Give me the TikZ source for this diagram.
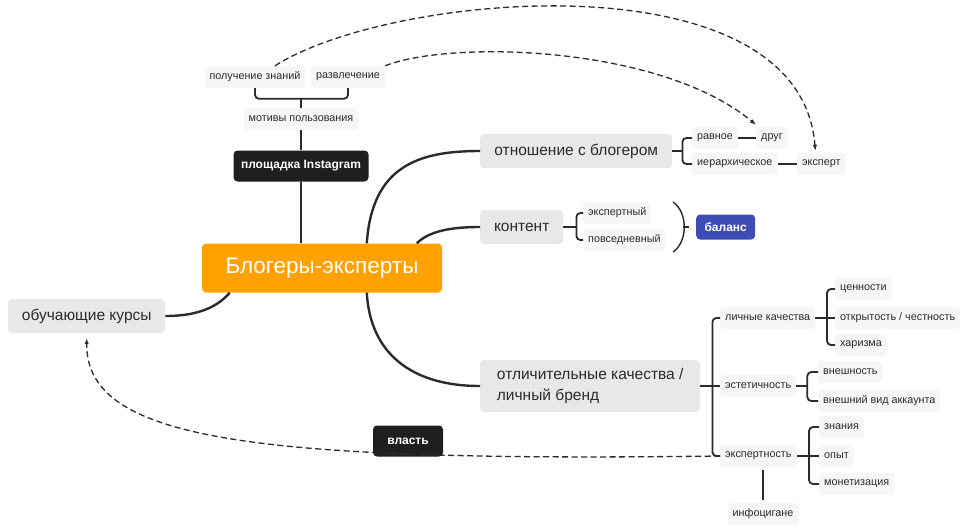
\documentclass[tikz,border=0pt]{standalone}
\usepackage{fontspec}
\setmainfont{Liberation Sans}
\usetikzlibrary{calc,arrows.meta}
\definecolor{encre}{HTML}{2B2B2B}
\definecolor{orangeblog}{HTML}{FFA200}
\definecolor{bleubal}{HTML}{3D4DB5}
\definecolor{noirbox}{HTML}{1F1F1F}
\definecolor{grisbox}{HTML}{E8E8E8}
\definecolor{grispetit}{HTML}{F6F6F6}

\begin{document}
\begin{tikzpicture}[x=1pt,y=-1pt,
	petit/.style={fill=grispetit,rounded corners=3pt,text=encre,font=\fontsize{10.8}{13}\selectfont,inner xsep=5pt,minimum height=22pt,anchor=west},
	gros/.style={fill=grisbox,rounded corners=4pt,text=encre,font=\fontsize{15.5}{21}\selectfont,inner xsep=13pt,minimum height=34pt,anchor=west},
	noir/.style={fill=noirbox,rounded corners=4pt,text=white,font=\fontsize{12}{14}\selectfont\bfseries,minimum height=31pt},
	branche/.style={draw=encre,line width=2.4pt},
	accolade/.style={draw=encre,line width=1.8pt,rounded corners=4pt},
	trait/.style={draw=encre,line width=1.4pt},
	fleche/.style={draw=encre,line width=1.3pt,dash pattern=on 6pt off 3.5pt,-{Latex[length=6pt,width=4.5pt]}}]
	\useasboundingbox (0,0) rectangle (963,531);
	% noeud central
	\node[fill=orangeblog,rounded corners=4pt,text=white,font=\fontsize{22.5}{27}\selectfont,minimum width=240pt,minimum height=49pt](blog)at(322,268){Блогеры-эксперты};
	% partie haute : motifs
	\node[petit,anchor=center](pz)at(255,77){получение знаний};
	\node[petit,anchor=center](rz)at(348,77){развлечение};
	\node[petit,anchor=center](mot)at(301,119){мотивы пользования};
	\node[noir,minimum width=135pt](insta)at(301,166){площадка Instagram};
	\coordinate(motb)at($(mot.north)+(0,-9)$);
	\draw[accolade] (pz.south) |- (motb) -| (rz.south);
	\draw[trait] (motb) -- (mot.north);
	\draw[trait] (mot.south) -- (insta.north);
	\draw[trait] (insta.south) -- (insta.south |- blog.north);
	% partie gauche
	\node[gros,minimum width=157pt](kursy)at(8,316){обучающие курсы};
	\node[noir,minimum width=70pt](vlast)at(408,441){власть};
	\coordinate(blogsw)at($(blog.south west)+(28,0)$);
	\draw[branche] (kursy.east) .. controls (200,316) and (218,306) .. (blogsw);
	% branches de droite
	\node[gros,minimum width=192pt](otn)at(480,151){отношение с блогером};
	\node[gros,minimum width=83pt](kont)at(480,227){контент};
	\node[gros,align=left,minimum width=220pt,minimum height=52pt](otl)at(480,386){отличительные качества /\\личный бренд};
	\coordinate(blogn1)at($(blog.north west)+(165,0)$);
	\coordinate(blogn2)at($(blog.north west)+(215,0)$);
	\coordinate(blogs1)at($(blog.south west)+(165,0)$);
	\draw[branche] (blogn1) .. controls (372,165) and (420,151) .. (otn.west);
	\draw[branche] (blogn2) .. controls (430,230) and (455,227) .. (kont.west);
	\draw[branche] (blogs1) .. controls (370,352) and (410,386) .. (otl.west);
	% relation avec le blogueur
	\node[petit](ravn)at(692,138){равное};
	\node[petit](drug)at(756,138){друг};
	\node[petit](ier)at(692,164){иерархическое};
	\node[petit](eksp)at(797,164){эксперт};
	\coordinate(otnb)at($(otn.east)+(10,0)$);
	\draw[accolade] (ravn.west) -| (otnb) |- (ier.west);
	\draw[accolade] (otn.east) -- (otnb);
	\draw[accolade] (ravn.east) -- (drug.west);
	\draw[accolade] (ier.east) -- (eksp.west);
	% contenu
	\node[petit](ekn)at(583,213){экспертный};
	\node[petit](povs)at(583,240){повседневный};
	\node[fill=bleubal,rounded corners=4pt,text=white,font=\fontsize{12}{14}\selectfont\bfseries,minimum width=59pt,minimum height=25pt,anchor=west](bal)at(696,227){баланс};
	\coordinate(kontb)at($(kont.east)+(13,0)$);
	\draw[accolade] (ekn.west) -| (kontb) |- (povs.west);
	\draw[accolade] (kont.east) -- (kontb);
	\coordinate(parh)at(673,202);
	\coordinate(parb)at(673,252);
	\coordinate(parm)at(683,227);
	\draw[trait] (parh) .. controls (688,212) and (688,242) .. (parb);
	\draw[trait] (parm) -- ++(6,0);
	% qualites distinctives
	\node[petit](lk)at(720,318){личные качества};
	\node[petit](est)at(720,386){эстетичность};
	\node[petit](expt)at(720,456){экспертность};
	\coordinate(otlb)at($(otl.east)+(12,0)$);
	\draw[accolade] (lk.west) -| (otlb) |- (expt.west);
	\draw[accolade] (otl.east) -- (est.west);
	\node[petit](cen)at(835,289){ценности};
	\node[petit](otkr)at(835,318){открытость / честность};
	\node[petit](har)at(835,345){харизма};
	\coordinate(lkb)at($(otkr.west)+(-8,0)$);
	\draw[accolade] (cen.west) -| (lkb) |- (har.west);
	\draw[accolade] (lk.east) -- (otkr.west);
	\node[petit](vn)at(818,372){внешность};
	\node[petit](vva)at(818,401){внешний вид аккаунта};
	\coordinate(estb)at($(est.east)+(11,0)$);
	\draw[accolade] (vn.west) -| (estb) |- (vva.west);
	\draw[accolade] (est.east) -- (estb);
	\node[petit](zn)at(819,427){знания};
	\node[petit](op)at(819,456){опыт};
	\node[petit](mon)at(819,484){монетизация};
	\coordinate(exptb)at($(op.west)+(-10,0)$);
	\draw[accolade] (zn.west) -| (exptb) |- (mon.west);
	\draw[accolade] (expt.east) -- (op.west);
	\node[petit,anchor=center](info)at(763,514){инфоцигане};
	\draw[trait,shorten <=3pt,shorten >=3pt] (expt.south -| info.north) -- (info.north);
	% fleches pointillees
	\draw[fleche] ([xshift=20pt]pz.north) .. controls (390,-8) and (800,-45) .. ([xshift=-6pt,yshift=2pt]eksp.north);
	\draw[fleche] (rz.north east) .. controls (450,40) and (660,45) .. ([yshift=2pt]drug.north west);
	\draw[fleche] (expt.west) .. controls (250,462) and (86,440) .. ([yshift=-5pt]kursy.south);
\end{tikzpicture}
\end{document}
